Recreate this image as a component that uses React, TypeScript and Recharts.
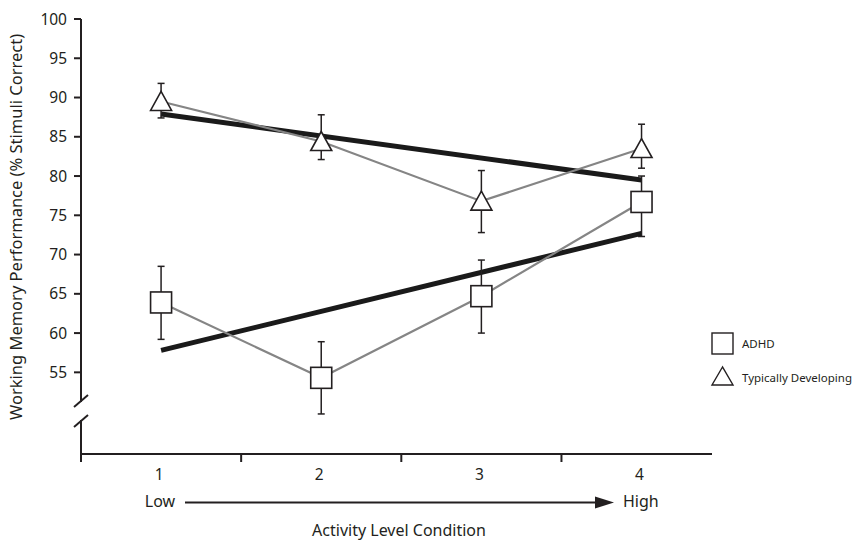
import React from 'react';
import { LineChart, Line, XAxis, YAxis, ErrorBar, Legend } from 'recharts';

const conditions = [1, 2, 3, 4];
const boundaryTicks = [0.5, 1.5, 2.5, 3.5];
const yTicks = [55, 60, 65, 70, 75, 80, 85, 90, 95, 100];

const adhdMean = [63.9, 54.3, 64.7, 76.7];
const adhdUpper = [68.5, 58.9, 69.3, 80.0];
const adhdLower = [59.2, 49.7, 60.0, 72.3];

const tdMean = [89.5, 84.4, 76.8, 83.5];
const tdUpper = [91.8, 87.8, 80.7, 86.6];
const tdLower = [87.4, 82.1, 72.8, 81.0];

// fitted trend lines, only end points known
const adhdTrend = [57.8, null, null, 72.7];
const tdTrend = [87.9, null, null, 79.5];

const FONT = '"Noto Sans", sans-serif';
const INK = '#231f20';

const data = conditions.map((c, i) => ({
  x: c,
  adhd: adhdMean[i],
  adhdErr: [adhdMean[i] - adhdLower[i], adhdUpper[i] - adhdMean[i]],
  td: tdMean[i],
  tdErr: [tdMean[i] - tdLower[i], tdUpper[i] - tdMean[i]],
  adhdTrend: adhdTrend[i],
  tdTrend: tdTrend[i],
}));

const xTicks = [...boundaryTicks, ...conditions].sort((a, b) => a - b);

const SquareDot = (props: any) => {
  const { cx, cy, index } = props;
  if (cx == null || cy == null) return <g key={index} />;
  return (
    <rect key={index} x={cx - 10.5} y={cy - 10.5} width={21} height={21} fill="#fff" stroke={INK} strokeWidth={1.6} />
  );
};

const TriangleDot = (props: any) => {
  const { cx, cy, index } = props;
  if (cx == null || cy == null) return <g key={index} />;
  const pts = `${cx},${cy - 10} ${cx - 10.5},${cy + 9} ${cx + 10.5},${cy + 9}`;
  return <polygon key={index} points={pts} fill="#fff" stroke={INK} strokeWidth={1.6} />;
};

// integer ticks get a label, half ticks get a boundary tick mark
const XTick = (props: any) => {
  const { x, y, payload } = props;
  if (!conditions.includes(payload.value)) {
    return <line x1={x} x2={x} y1={y - 1} y2={y + 8} stroke={INK} strokeWidth={2} />;
  }
  return (
    <text x={x - 2} y={y + 26} textAnchor="middle" fontFamily={FONT} fontSize={15.5} fill={INK}>
      {payload.value}
    </text>
  );
};

const LegendContent = () => (
  <svg width={154} height={62} style={{ display: 'block' }}>
    <rect x={7} y={8} width={21} height={21} fill="#fff" stroke={INK} strokeWidth={1.4} />
    <text x={37} y={23} fontFamily={FONT} fontSize={11.5} fill={INK}>ADHD</text>
    <polygon points="17.5,42 7,60 28,60" fill="#fff" stroke={INK} strokeWidth={1.4} />
    <text x={37} y={57} fontFamily={FONT} fontSize={11.5} fill={INK}>Typically Developing</text>
  </svg>
);

export default function App() {
  return (
    <div style={{ position: 'absolute', left: 0, top: 0, width: 859, height: 541, background: '#fff' }}>
      <LineChart
        width={859}
        height={541}
        data={data}
        margin={{ top: 19, right: 147, left: 0, bottom: 57 }}
      >
        <XAxis
          dataKey="x"
          type="number"
          domain={[0.5, 4.44]}
          ticks={xTicks}
          allowDataOverflow
          axisLine={{ stroke: INK, strokeWidth: 2 }}
          tickLine={false}
          tickSize={0}
          tickMargin={0}
          tick={<XTick />}
          interval={0}
          height={30}
        />
        <YAxis
          type="number"
          domain={[44.6, 100]}
          ticks={yTicks}
          allowDataOverflow
          width={81}
          interval={0}
          axisLine={{ stroke: INK, strokeWidth: 2 }}
          tickLine={{ stroke: INK, strokeWidth: 2 }}
          tickSize={7}
          tickMargin={7}
          tick={{ fontFamily: FONT, fontSize: 15.5, fill: INK }}
        />
        <Line
          dataKey="tdTrend"
          stroke="#1a1a1a"
          strokeWidth={5}
          dot={false}
          connectNulls
          isAnimationActive={false}
          legendType="none"
        />
        <Line
          dataKey="adhdTrend"
          stroke="#1a1a1a"
          strokeWidth={5}
          dot={false}
          connectNulls
          isAnimationActive={false}
          legendType="none"
        />
        <Line
          name="ADHD"
          dataKey="adhd"
          stroke="#858585"
          strokeWidth={2.2}
          dot={<SquareDot />}
          isAnimationActive={false}
        >
          <ErrorBar dataKey="adhdErr" direction="y" width={3.5} stroke={INK} strokeWidth={1.5} />
        </Line>
        <Line
          name="Typically Developing"
          dataKey="td"
          stroke="#858585"
          strokeWidth={2.2}
          dot={<TriangleDot />}
          isAnimationActive={false}
        >
          <ErrorBar dataKey="tdErr" direction="y" width={3.5} stroke={INK} strokeWidth={1.5} />
        </Line>
        <Legend
          layout="vertical"
          align="center"
          verticalAlign="middle"
          content={<LegendContent />}
          wrapperStyle={{ position: 'absolute', left: 705, top: 325, width: 154, height: 62 }}
        />
      </LineChart>

      <svg
        width={859}
        height={541}
        style={{ position: 'absolute', left: 0, top: 0, pointerEvents: 'none' }}
      >
        {/* axis break */}
        <rect x={70} y={402} width={22} height={18} fill="#fff" />
        <line x1={74} y1={407} x2={88} y2={395} stroke={INK} strokeWidth={2} />
        <line x1={74} y1={427} x2={88} y2={415} stroke={INK} strokeWidth={2} />

        {/* Low -> High arrow */}
        <text x={160} y={507} textAnchor="middle" fontFamily={FONT} fontSize={16} fill={INK}>Low</text>
        <line x1={185} y1={502.5} x2={598} y2={502.5} stroke={INK} strokeWidth={2} />
        <polygon points="595,496.5 614,502.5 595,508.5" fill={INK} />
        <text x={623} y={507} fontFamily={FONT} fontSize={16} fill={INK}>High</text>

        <text x={399} y={536} textAnchor="middle" fontFamily={FONT} fontSize={16} fill={INK}>
          Activity Level Condition
        </text>
        <text
          x={0}
          y={0}
          transform="translate(22 227) rotate(-90)"
          textAnchor="middle"
          fontFamily={FONT}
          fontSize={16.5}
          fill={INK}
        >
          Working Memory Performance (% Stimuli Correct)
        </text>
      </svg>
    </div>
  );
}
